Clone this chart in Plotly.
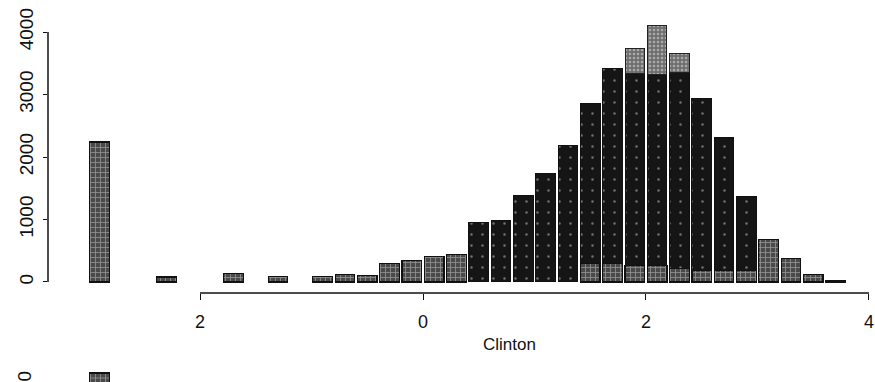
import plotly.graph_objects as go

# Histogram of Clinton scores, bins of width 0.2 (bin centres)
bin_centers = [-2.9, -2.7, -2.5, -2.3, -2.1, -1.9, -1.7, -1.5, -1.3, -1.1,
               -0.9, -0.7, -0.5, -0.3, -0.1, 0.1, 0.3, 0.5, 0.7, 0.9,
               1.1, 1.3, 1.5, 1.7, 1.9, 2.1, 2.3, 2.5, 2.7, 2.9,
               3.1, 3.3, 3.5, 3.7]

# Stacked counts per bin: light-stippled base, dark core, grey cap
base_counts = [2240, None, None, 80, None, None, 130, None, 90, None,
               90, 120, 110, 290, 350, 410, 440, None, None, None,
               None, None, 300, 290, 270, 260, 220, 190, 180, 180,
               680, 370, 120, 15]
core_counts = [None, None, None, None, None, None, None, None, None, None,
               None, None, None, None, None, None, None, 950, 990, 1390,
               1730, 2190, 2560, 3130, 3060, 3060, 3130, 2740, 2130, 1190,
               None, None, None, None]
cap_counts = [None] * 24 + [400, 790, 300] + [None] * 7

# Top of the next panel, cut off by the page edge
lower_centers = [-2.9]
lower_counts = [4290]

x_ticks = [-2, 0, 2, 4]
x_tick_text = ["2", "0", "2", "4"]
y_ticks = [0, 1000, 2000, 3000, 4000]
y_tick_text = ["0", "1000", "2000", "3000", "4000"]

FONT = "Liberation Sans, Arial, sans-serif"
BAR_WIDTH = 0.176

base_marker = dict(color="#505050",
                   line=dict(color="#111111", width=1.2),
                   pattern=dict(shape="+", fgcolor="#d9d9d9", bgcolor="#4a4a4a",
                                size=5, solidity=0.3))

fig = go.Figure()

fig.add_trace(go.Bar(
    x=bin_centers, y=base_counts, name="base", width=BAR_WIDTH,
    marker=base_marker,
))
fig.add_trace(go.Bar(
    x=bin_centers, y=core_counts, name="core", width=BAR_WIDTH,
    marker=dict(color="#141414",
                line=dict(color="#111111", width=1),
                pattern=dict(shape=".", fgcolor="#cfcfcf", bgcolor="#151515",
                             size=11, solidity=0.04)),
))
fig.add_trace(go.Bar(
    x=bin_centers, y=cap_counts, name="cap", width=BAR_WIDTH,
    marker=dict(color="#7a7a7a",
                line=dict(color="#222222", width=1),
                pattern=dict(shape=".", fgcolor="#e6e6e6", bgcolor="#6e6e6e",
                             size=4, solidity=0.35)),
))
fig.add_trace(go.Bar(
    x=lower_centers, y=lower_counts, name="lower", width=BAR_WIDTH,
    xaxis="x2", yaxis="y2",
    marker=base_marker,
))

fig.update_layout(
    width=875, height=382,
    margin=dict(l=48, r=4, t=0, b=0, autoexpand=False),
    paper_bgcolor="white", plot_bgcolor="white",
    barmode="stack",
    showlegend=False,
    font=dict(family=FONT, color="#111111"),
    xaxis=dict(
        range=[-3.3632, 4.018], domain=[0, 1], anchor="y", automargin=False,
        tickmode="array", tickvals=x_ticks, ticktext=x_tick_text,
        ticks="outside", ticklen=6, tickwidth=1.3, tickcolor="#111111",
        ticklabelstandoff=6,
        showline=False, showgrid=False, zeroline=False,
        tickfont=dict(size=18, family=FONT),
    ),
    yaxis=dict(
        range=[-176, 4192], domain=[0.233, 0.9476], anchor="x", automargin=False,
        tickmode="array", tickvals=y_ticks, ticktext=y_tick_text,
        ticks="outside", ticklen=4, tickwidth=1.3, tickcolor="#111111",
        tickangle=-90, ticklabelstandoff=2,
        showline=False, showgrid=False, zeroline=False,
        tickfont=dict(size=19, family=FONT),
    ),
    xaxis2=dict(matches="x", domain=[0, 1], anchor="y2", visible=False),
    yaxis2=dict(range=[4144, 4328], domain=[0, 0.03], anchor="x2",
                visible=False),
)

# Axis lines spanning only the labelled range
fig.add_shape(type="line", xref="x", yref="y domain",
              x0=-2, x1=4, y0=0, y1=0,
              line=dict(color="#111111", width=1.5))
fig.add_shape(type="line", xref="x domain", yref="y",
              x0=0, x1=0, y0=0, y1=4000,
              line=dict(color="#111111", width=1.5))

fig.add_annotation(text="Clinton", xref="x", yref="paper",
                   x=0.78, y=0.097, xanchor="center", yanchor="middle",
                   showarrow=False,
                   font=dict(size=17, family=FONT, color="#111111"))
fig.add_annotation(text="0", xref="paper", yref="paper",
                   x=-0.0297, y=0.0157, xanchor="center", yanchor="middle",
                   textangle=-90, showarrow=False,
                   font=dict(size=19, family=FONT, color="#111111"))

fig.write_html("out.html")
